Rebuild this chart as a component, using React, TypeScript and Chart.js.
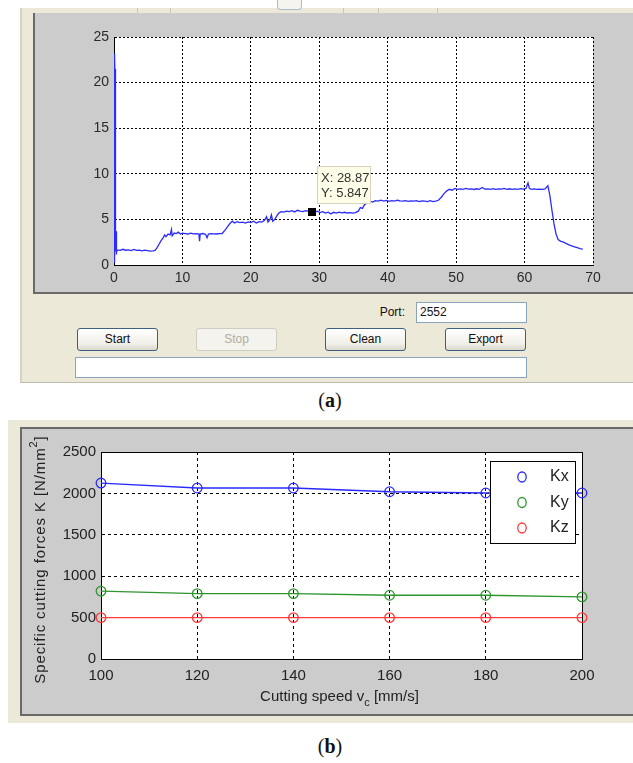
import React, { useEffect, useRef } from "react";
import { Chart, registerables } from "chart.js";

Chart.register(...registerables);

const FONT = '"Liberation Sans", Arial, sans-serif';

// ---------------- Panel (a) data: force signal over time ----------------
const signalPoints: [number, number][] = [
  [0, 0.3], [0.04, 23.2], [0.08, 20.5], [0.12, 23], [0.16, 19.8], [0.2, 21.5], [0.24, 2.0], [0.3, 1.5],
  [0.34, 3.7], [0.38, 1.4], [0.5, 1.65], [0.9, 1.6], [1.3, 1.72], [1.7, 1.62], [2.1, 1.66], [2.5, 1.58],
  [2.9, 1.7], [3.3, 1.6], [3.7, 1.64], [4.1, 1.55], [4.5, 1.62], [4.9, 1.57], [5.3, 1.52], [5.7, 1.55],
  [6.0, 1.6], [6.3, 1.9], [6.6, 2.3], [6.9, 2.7], [7.2, 3.0], [7.4, 3.3], [7.6, 3.1], [7.9, 3.4],
  [8.2, 3.3], [8.4, 3.9], [8.5, 3.2], [8.8, 3.5], [9.1, 3.45], [9.4, 3.6], [9.7, 3.4], [10.0, 3.5],
  [10.4, 3.45], [10.8, 3.4], [11.2, 3.5], [11.6, 3.42], [12.0, 3.45], [12.4, 3.4], [12.5, 2.6], [12.6, 3.4],
  [13.0, 3.45], [13.4, 3.35], [13.6, 3.0], [13.8, 3.4], [14.2, 3.45], [14.6, 3.42], [15.0, 3.4], [15.4, 3.45],
  [15.8, 3.45], [16.2, 3.8], [16.6, 4.2], [17.0, 4.6], [17.3, 4.8], [17.6, 4.6], [18.0, 4.75], [18.4, 4.65],
  [18.8, 4.7], [19.2, 4.6], [19.6, 4.72], [20.0, 4.65], [20.4, 4.8], [20.8, 4.6], [21.2, 4.75], [21.6, 4.7],
  [22.0, 4.9], [22.3, 5.3], [22.5, 4.7], [22.8, 5.0], [23.0, 5.5], [23.2, 4.8], [23.5, 5.0], [23.8, 5.4],
  [24.1, 5.7], [24.4, 5.85], [24.8, 5.8], [25.2, 5.9], [25.6, 5.85], [26.0, 5.95], [26.4, 5.82], [26.8, 6.0],
  [27.2, 5.9], [27.6, 5.85], [28.0, 5.95], [28.4, 5.9], [28.87, 5.847], [29.3, 5.8], [29.7, 5.9], [30.1, 5.75],
  [30.5, 5.85], [30.9, 5.7], [31.3, 5.8], [31.7, 5.6], [32.1, 5.78], [32.5, 5.7], [32.9, 5.8], [33.3, 5.72],
  [33.7, 5.78], [34.1, 5.7], [34.5, 5.75], [34.9, 5.68], [35.3, 5.75], [35.7, 5.9], [36.0, 6.3], [36.3, 6.2],
  [36.6, 6.6], [37.0, 6.8], [37.4, 7.0], [37.8, 6.9], [38.2, 7.05], [38.6, 7.0], [39.0, 7.1], [39.4, 7.0],
  [39.8, 7.08], [40.2, 6.98], [40.6, 7.05], [41.0, 7.0], [41.4, 7.1], [41.8, 7.02], [42.2, 7.0], [42.6, 7.06],
  [43.0, 6.98], [43.4, 7.04], [43.8, 7.0], [44.2, 7.05], [44.6, 6.95], [45.0, 7.02], [45.4, 7.0], [45.8, 6.96],
  [46.2, 7.05], [46.6, 6.95], [47.0, 7.0], [47.4, 7.1], [47.8, 7.4], [48.2, 7.8], [48.6, 8.1], [49.0, 8.3],
  [49.4, 8.2], [49.8, 8.4], [50.2, 8.3], [50.6, 8.35], [51.0, 8.3], [51.4, 8.4], [51.8, 8.32], [52.2, 8.35],
  [52.6, 8.28], [53.0, 8.36], [53.4, 8.3], [53.8, 8.5], [54.2, 8.32], [54.6, 8.35], [55.0, 8.3], [55.4, 8.38],
  [55.8, 8.3], [56.2, 8.35], [56.6, 8.32], [57.0, 8.4], [57.4, 8.3], [57.8, 8.36], [58.2, 8.3], [58.6, 8.35],
  [59.0, 8.3], [59.4, 8.38], [59.8, 8.32], [60.2, 8.4], [60.5, 9.0], [60.7, 8.4], [61.0, 8.3], [61.4, 8.35],
  [61.8, 8.3], [62.2, 8.32], [62.6, 8.3], [63.0, 8.35], [63.4, 8.7], [63.7, 7.6], [64.0, 6.0], [64.3, 4.5],
  [64.6, 3.4], [64.9, 2.8], [65.3, 2.6], [65.7, 2.5], [66.1, 2.35], [66.5, 2.2], [66.9, 2.1], [67.3, 2.0],
  [67.7, 1.9], [68.1, 1.8], [68.5, 1.75],
];
const xTicksA = [0, 10, 20, 30, 40, 50, 60, 70];
const yTicksA = [0, 5, 10, 15, 20, 25];
const tipX = 28.87;
const tipY = 5.847;

// ---------------- Panel (b) data: specific cutting forces ----------------
const speeds = [100, 120, 140, 160, 180, 200];
const kxValues = [2125, 2065, 2065, 2020, 2005, 2005];
const kyValues = [820, 790, 790, 770, 770, 750];
const kzValues = [500, 500, 500, 500, 500, 500];
const seriesLabels = ["Kx", "Ky", "Kz"];
const seriesColors = ["#2a2aff", "#2e962e", "#ff3a3a"];
const xTicksB = [100, 120, 140, 160, 180, 200];
const yTicksB = [0, 500, 1000, 1500, 2000, 2500];

const plainLabel = (v: any) => String(v);

const plotBgPlugin = {
  id: "plotBg",
  beforeDraw(chart: any) {
    const { ctx, chartArea: a } = chart;
    ctx.save();
    ctx.fillStyle = "#ffffff";
    ctx.fillRect(a.left, a.top, a.right - a.left, a.bottom - a.top);
    ctx.restore();
  },
};

const dataTipPlugin = {
  id: "dataTip",
  afterDatasetsDraw(chart: any) {
    const { ctx } = chart;
    const px = chart.scales.x.getPixelForValue(tipX);
    const py = chart.scales.y.getPixelForValue(tipY);
    ctx.save();
    ctx.fillStyle = "#000";
    ctx.fillRect(Math.round(px) - 4, Math.round(py) - 4, 8, 8);
    const bx = Math.round(px) + 5;
    const by = Math.round(py) - 46;
    const bw = 53;
    const bh = 37;
    ctx.fillStyle = "#fdfde8";
    ctx.fillRect(bx, by, bw, bh);
    ctx.strokeStyle = "#d6d3c0";
    ctx.lineWidth = 1;
    ctx.strokeRect(bx + 0.5, by + 0.5, bw, bh);
    ctx.fillStyle = "#333";
    ctx.font = `13px ${FONT}`;
    ctx.textBaseline = "middle";
    ctx.textAlign = "left";
    ctx.fillText(`X: ${tipX}`, bx + 4, by + 12);
    ctx.fillText(`Y: ${tipY}`, bx + 4, by + 27);
    ctx.restore();
  },
};

const frameBPlugin = {
  id: "frameB",
  beforeDatasetsDraw(chart: any) {
    const { ctx, chartArea: a } = chart;
    ctx.save();
    ctx.strokeStyle = "#000";
    ctx.lineWidth = 1;
    ctx.strokeRect(Math.round(a.left) + 0.5, Math.round(a.top) + 0.5, Math.round(a.right - a.left), Math.round(a.bottom - a.top));
    ctx.restore();
  },
};

const legendBPlugin = {
  id: "legendB",
  afterDatasetsDraw(chart: any) {
    const { ctx, chartArea: a } = chart;
    const bx = Math.round(a.right) - 92;
    const by = Math.round(a.top) + 9;
    const bw = 85;
    const bh = 82;
    ctx.save();
    ctx.fillStyle = "#fff";
    ctx.fillRect(bx, by, bw, bh);
    ctx.strokeStyle = "#000";
    ctx.lineWidth = 1;
    ctx.strokeRect(bx + 0.5, by + 0.5, bw, bh);
    ctx.font = `16px ${FONT}`;
    ctx.textBaseline = "middle";
    ctx.textAlign = "left";
    chart.data.datasets.forEach((ds: any, i: number) => {
      const cy = by + 16 + i * 25.5;
      ctx.beginPath();
      ctx.ellipse(bx + 32, cy, 4.2, 5, 0, 0, Math.PI * 2);
      ctx.strokeStyle = ds.borderColor;
      ctx.lineWidth = 1.3;
      ctx.stroke();
      ctx.fillStyle = "#222";
      ctx.fillText(ds.label, bx + 60, cy);
    });
    ctx.restore();
  },
};

const titlesBPlugin = {
  id: "titlesB",
  afterDraw(chart: any) {
    const { ctx, chartArea: a } = chart;
    ctx.save();
    ctx.fillStyle = "#222";
    ctx.textBaseline = "middle";
    ctx.textAlign = "left";
    const main = `15px ${FONT}`;
    const small = `11px ${FONT}`;
    // x title with subscript
    ctx.font = main;
    const p1 = "Cutting speed v";
    const p3 = " [mm/s]";
    const w1 = ctx.measureText(p1).width;
    const w3 = ctx.measureText(p3).width;
    ctx.font = small;
    const w2 = ctx.measureText("c").width;
    const total = w1 + w2 + w3;
    const cx = (a.left + a.right) / 2 - 2;
    const cy = a.bottom + 38;
    let x = cx - total / 2;
    ctx.font = main;
    ctx.fillText(p1, x, cy);
    x += w1;
    ctx.font = small;
    ctx.fillText("c", x, cy + 6);
    x += w2;
    ctx.font = main;
    ctx.fillText(p3, x, cy);

    // y title with superscript, rotated
    ctx.translate(a.left - 60, (a.top + a.bottom) / 2 + 4);
    ctx.rotate(-Math.PI / 2);
    (ctx as any).letterSpacing = "0.9px";
    const q1 = "Specific cutting forces K [N/mm";
    const q3 = "]";
    ctx.font = main;
    const v1 = ctx.measureText(q1).width;
    const v3 = ctx.measureText(q3).width;
    ctx.font = small;
    const v2 = ctx.measureText("2").width;
    let y = -(v1 + v2 + v3) / 2;
    ctx.font = main;
    ctx.fillText(q1, y, 0);
    y += v1;
    ctx.font = small;
    ctx.fillText("2", y, -7);
    y += v2;
    ctx.font = main;
    ctx.fillText(q3, y, 0);
    ctx.restore();
  },
};

const panel: React.CSSProperties = { position: "absolute", boxSizing: "border-box" };

function Button({ left, top, label, disabled }: { left: number; top: number; label: string; disabled?: boolean }) {
  return (
    <div
      style={{
        ...panel,
        left,
        top,
        width: 81,
        height: 23,
        border: `1px solid ${disabled ? "#cfcdbf" : "#3f5f80"}`,
        borderRadius: 3,
        background: disabled ? "#f4f3ee" : "linear-gradient(#ffffff, #f0efe9 70%, #dcd8cc)",
        color: disabled ? "#b0ad9f" : "#111",
        font: `12px ${FONT}`,
        lineHeight: "21px",
        textAlign: "center",
      }}
    >
      {label}
    </div>
  );
}

export default function App() {
  const refA = useRef<HTMLCanvasElement>(null);
  const refB = useRef<HTMLCanvasElement>(null);

  useEffect(() => {
    const chartA = new Chart(refA.current as HTMLCanvasElement, {
      type: "line",
      data: {
        datasets: [
          {
            data: signalPoints.map(([x, y]) => ({ x, y })),
            borderColor: "#2b2bff",
            borderWidth: 1.3,
            pointRadius: 0,
            tension: 0,
          },
        ],
      },
      options: {
        animation: false,
        responsive: false,
        devicePixelRatio: 1,
        events: [],
        layout: { padding: { left: 40, top: 24, right: 40, bottom: 4 } },
        plugins: { legend: { display: false }, tooltip: { enabled: false } },
        scales: {
          x: {
            type: "linear",
            min: 0,
            max: 70,
            afterBuildTicks: (s: any) => {
              s.ticks = xTicksA.map((v) => ({ value: v }));
            },
            afterFit: (s: any) => {
              s.height = 24;
            },
            grid: { color: "#000", lineWidth: 1, drawTicks: false, borderDash: [2, 2] } as any,
            border: { display: true, color: "#000", width: 1, dash: [2, 2] },
            ticks: { color: "#2a2a2a", font: { family: FONT, size: 14 }, padding: 5, maxRotation: 0, autoSkip: false, callback: plainLabel },
          },
          y: {
            type: "linear",
            min: 0,
            max: 25,
            afterBuildTicks: (s: any) => {
              s.ticks = yTicksA.map((v) => ({ value: v }));
            },
            afterFit: (s: any) => {
              s.width = 41;
            },
            grid: { color: "#000", lineWidth: 1, drawTicks: false, borderDash: [2, 2] } as any,
            border: { display: true, color: "#000", width: 1, dash: [2, 2] },
            ticks: { color: "#2a2a2a", font: { family: FONT, size: 14 }, padding: 5, autoSkip: false, callback: plainLabel },
          },
        },
      } as any,
      plugins: [plotBgPlugin, dataTipPlugin],
    });

    const seriesValues = [kxValues, kyValues, kzValues];
    const chartB = new Chart(refB.current as HTMLCanvasElement, {
      type: "line",
      data: {
        labels: speeds,
        datasets: seriesValues.map((vals, i) => ({
          label: seriesLabels[i],
          data: speeds.map((s, j) => ({ x: s, y: vals[j] })),
          borderColor: seriesColors[i],
          backgroundColor: "rgba(0,0,0,0)",
          borderWidth: 1.3,
          pointRadius: 4.8,
          pointBorderWidth: 1.3,
          pointBackgroundColor: "rgba(0,0,0,0)",
          pointBorderColor: seriesColors[i],
          tension: 0,
          clip: false,
        })),
      },
      options: {
        animation: false,
        responsive: false,
        devicePixelRatio: 1,
        events: [],
        layout: { padding: { left: 41, top: 25, right: 51, bottom: 32 } },
        plugins: { legend: { display: false }, tooltip: { enabled: false } },
        scales: {
          x: {
            type: "linear",
            min: 100,
            max: 200,
            afterBuildTicks: (s: any) => {
              s.ticks = xTicksB.map((v) => ({ value: v }));
            },
            afterFit: (s: any) => {
              s.height = 24;
            },
            grid: { color: "#000", lineWidth: 1, drawTicks: false, borderDash: [3, 3] } as any,
            border: { display: true, color: "#000", width: 1, dash: [3, 3] },
            ticks: { color: "#222", font: { family: FONT, size: 15 }, padding: 8, maxRotation: 0, autoSkip: false, callback: plainLabel },
          },
          y: {
            type: "linear",
            min: 0,
            max: 2500,
            afterBuildTicks: (s: any) => {
              s.ticks = yTicksB.map((v) => ({ value: v }));
            },
            afterFit: (s: any) => {
              s.width = 40;
            },
            grid: { color: "#000", lineWidth: 1, drawTicks: false, borderDash: [3, 3] } as any,
            border: { display: true, color: "#000", width: 1, dash: [3, 3] },
            ticks: { color: "#222", font: { family: FONT, size: 15 }, padding: 5, autoSkip: false, callback: plainLabel },
          },
        },
      } as any,
      plugins: [plotBgPlugin, frameBPlugin, legendBPlugin, titlesBPlugin],
    });

    return () => {
      chartA.destroy();
      chartB.destroy();
    };
  }, []);

  const caption = (letter: string, top: number) => (
    <div
      style={{
        ...panel,
        left: 230,
        top,
        width: 200,
        height: 24,
        lineHeight: "24px",
        textAlign: "center",
        font: `20px "Liberation Serif", "Times New Roman", serif`,
        color: "#111",
      }}
    >
      (<b>{letter}</b>)
    </div>
  );

  return (
    <div
      style={{
        position: "absolute",
        left: 0,
        top: 0,
        width: 633,
        height: 763,
        background: "#fff",
        overflow: "hidden",
        filter: "blur(0.45px)",
      }}
    >
      {/* ---------- Panel (a): GUI window ---------- */}
      <div
        style={{
          ...panel,
          left: 20,
          top: 8,
          width: 613,
          height: 375,
          background: "#ece9d8",
          borderLeft: "2px solid #d6d2bf",
          borderBottom: "1px solid #bdbab0",
        }}
      />
      {[137, 170, 343, 378, 437].map((x) => (
        <div key={x} style={{ ...panel, left: x, top: 8, width: 1, height: 5, background: "#cbc7b3" }} />
      ))}
      <div
        style={{
          ...panel,
          left: 277,
          top: 0,
          width: 25,
          height: 10,
          background: "#f5f4ef",
          border: "1px solid #a9bbd0",
          borderTop: "none",
          borderRadius: "0 0 4px 4px",
        }}
      />
      <div
        style={{
          ...panel,
          left: 33,
          top: 13,
          width: 600,
          height: 281,
          background: "#cccccc",
          borderLeft: "2px solid #6a6a6a",
          borderBottom: "2px solid #6a6a6a",
        }}
      />
      <canvas ref={refA} width={600} height={280} style={{ position: "absolute", left: 33, top: 13, width: 600, height: 280 }} />

      <div
        style={{
          ...panel,
          left: 340,
          top: 305,
          width: 65,
          height: 16,
          lineHeight: "16px",
          textAlign: "right",
          font: `12px ${FONT}`,
          color: "#111",
        }}
      >
        Port:
      </div>
      <div
        style={{
          ...panel,
          left: 416,
          top: 302,
          width: 111,
          height: 21,
          background: "#fff",
          border: "1px solid #8aa4bf",
          font: `12px ${FONT}`,
          lineHeight: "19px",
          paddingLeft: 3,
          color: "#111",
        }}
      >
        2552
      </div>
      <Button left={77} top={328} label="Start" />
      <Button left={196} top={328} label="Stop" disabled />
      <Button left={325} top={328} label="Clean" />
      <Button left={445} top={328} label="Export" />
      <div
        style={{
          ...panel,
          left: 75,
          top: 357,
          width: 452,
          height: 21,
          background: "#fff",
          border: "1px solid #8aa4bf",
        }}
      />
      {caption("a", 389)}

      {/* ---------- Panel (b) ---------- */}
      <div style={{ ...panel, left: 8, top: 420, width: 625, height: 303, background: "#ece9d8" }} />
      <div
        style={{
          ...panel,
          left: 20,
          top: 427,
          width: 613,
          height: 289,
          background: "#cccccc",
          borderLeft: "2px solid #6a6a6a",
          borderTop: "2px solid #6a6a6a",
          borderBottom: "2px solid #6a6a6a",
        }}
      />
      <canvas ref={refB} width={613} height={288} style={{ position: "absolute", left: 20, top: 427, width: 613, height: 288 }} />
      {caption("b", 735)}
    </div>
  );
}
